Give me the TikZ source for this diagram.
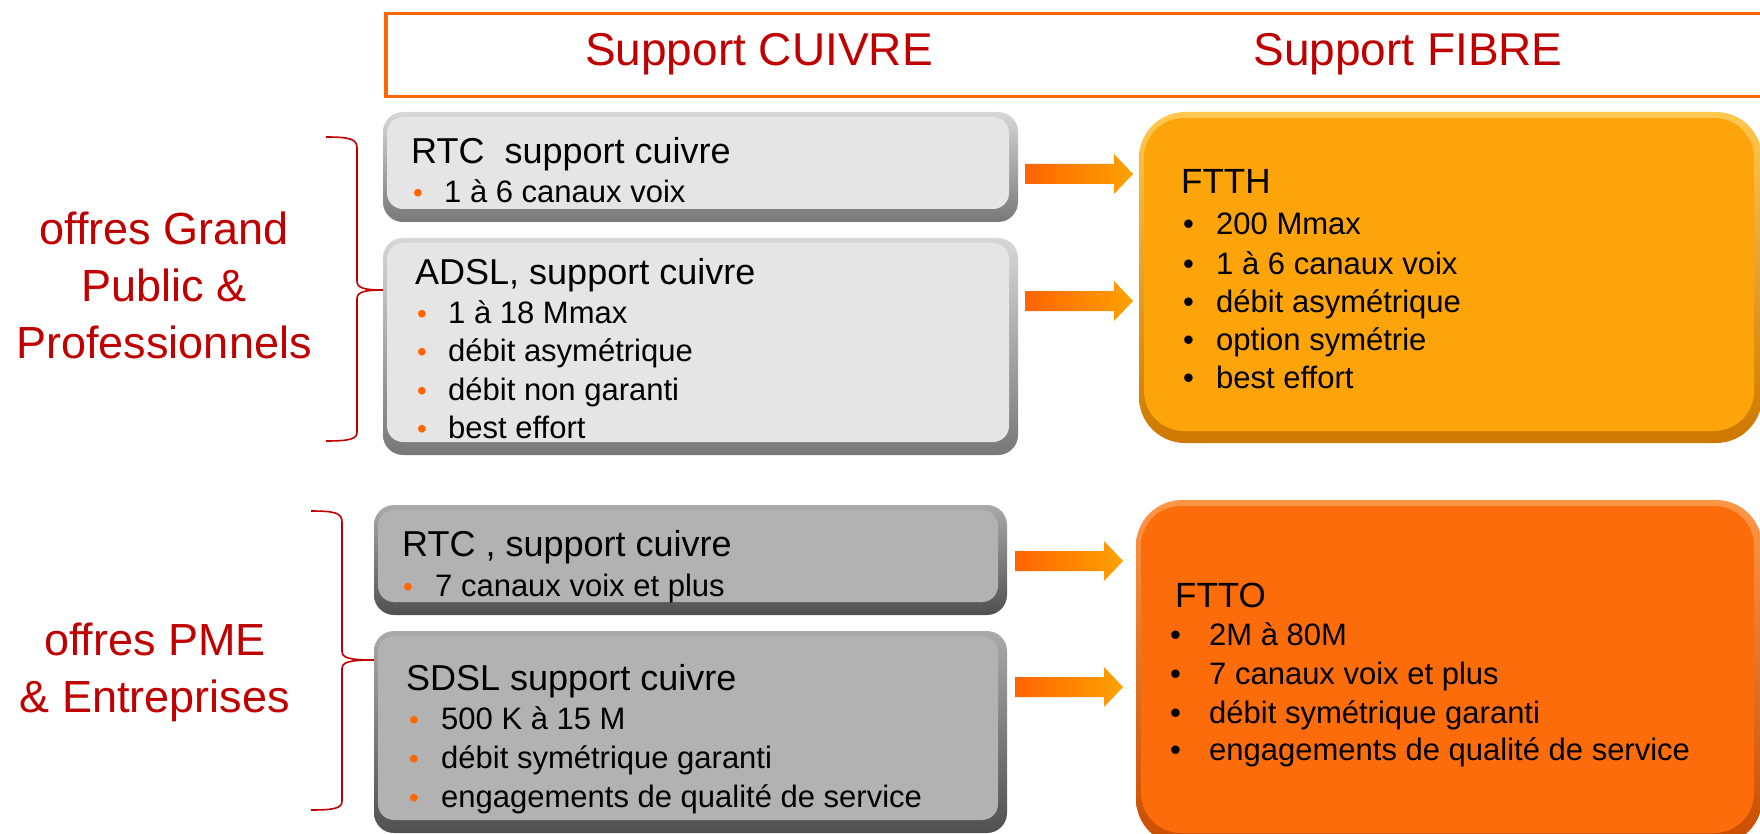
\documentclass[tikz,border=0pt]{standalone}
\usepackage{fontspec}
\setmainfont{Liberation Sans}
\usetikzlibrary{calc}

\definecolor{hdred}{RGB}{192,0,0}
\definecolor{lineor}{RGB}{255,102,0}
\definecolor{lgfill}{RGB}{229,229,229}
\definecolor{lgtop}{RGB}{215,215,215}
\definecolor{lgedge}{RGB}{120,120,120}
\definecolor{dgfill}{RGB}{178,178,178}
\definecolor{dgtop}{RGB}{170,170,170}
\definecolor{dgedge}{RGB}{80,80,80}
\definecolor{fthfill}{RGB}{252,164,10}
\definecolor{fthtop}{RGB}{255,200,80}
\definecolor{fthedge}{RGB}{205,120,0}
\definecolor{ftofill}{RGB}{252,108,10}
\definecolor{ftotop}{RGB}{255,150,70}
\definecolor{ftoedge}{RGB}{200,78,0}
\definecolor{arrL}{RGB}{255,100,0}
\definecolor{arrR}{RGB}{255,162,0}
\definecolor{bulor}{RGB}{255,102,0}

\newcommand\blockarr[2]{%
  \shade[left color=arrL, right color=arrR]
    ($(#1)+(0,-10)$) -- ($(#2)+(-19,-10)$) -- ($(#2)+(-19,-20)$) -- (#2)
    -- ($(#2)+(-19,20)$) -- ($(#2)+(-19,10)$) -- ($(#1)+(0,10)$) -- cycle;}

\tikzset{
  hdtext/.style={font=\fontsize{46}{55}\selectfont, text=hdred, inner sep=0pt, anchor=base},
  grptext/.style={font=\fontsize{45}{57}\selectfont, text=hdred, inner sep=0pt, anchor=base},
  boxtitle/.style={font=\fontsize{36}{43}\selectfont, inner sep=0pt, anchor=base west},
  fibtitle/.style={font=\fontsize{35}{42}\selectfont, inner sep=0pt, anchor=base west},
  itemtext/.style={font=\fontsize{31}{38}\selectfont, inner sep=0pt, anchor=base west},
  orbul/.style={font=\fontsize{28}{34}\selectfont, text=bulor, inner sep=0pt, anchor=base west},
  blkbul/.style={font=\fontsize{31}{38}\selectfont, inner sep=0pt, anchor=base west},
  lgbox/.style={rounded corners=20pt, inner sep=0pt, outer sep=0pt, anchor=north west,
    top color=lgtop, bottom color=lgedge},
  dgbox/.style={rounded corners=20pt, inner sep=0pt, outer sep=0pt, anchor=north west,
    top color=dgtop, bottom color=dgedge},
  fthbox/.style={rounded corners=46pt, inner sep=0pt, outer sep=0pt, anchor=north west,
    top color=fthtop, bottom color=fthedge},
  ftobox/.style={rounded corners=46pt, inner sep=0pt, outer sep=0pt, anchor=north west,
    top color=ftotop, bottom color=ftoedge},
  bracket/.style={draw=hdred, line width=1.6pt}
}

\begin{document}
\begin{tikzpicture}[x=1pt,y=-1pt]
\useasboundingbox (0,0) rectangle (1760,834);
\clip (0,0) rectangle (1760,834);
\fill[white] (0,0) rectangle (1760,834);

% header
\node[draw=lineor, line width=3.5pt, fill=white, inner sep=0pt, anchor=north west,
      minimum width=1390pt, minimum height=83pt] (hdr) at (384,12) {};
\node[hdtext] (hcu) at (759,66) {Support CUIVRE};
\node[hdtext] (hfi) at (1408,66) {Support FIBRE};

% grey boxes
\node[lgbox, minimum width=635pt, minimum height=110pt] (rtcA) at (383,112) {};
\fill[lgfill, rounded corners=16pt] ($(rtcA.north west)+(4,5)$) rectangle ($(rtcA.south east)+(-9,-13)$);
\node[lgbox, minimum width=635pt, minimum height=217pt] (adsl) at (383,238) {};
\fill[lgfill, rounded corners=16pt] ($(adsl.north west)+(4,5)$) rectangle ($(adsl.south east)+(-9,-13)$);
\node[dgbox, minimum width=633pt, minimum height=110pt] (rtcB) at (374,505) {};
\fill[dgfill, rounded corners=16pt] ($(rtcB.north west)+(4,5)$) rectangle ($(rtcB.south east)+(-9,-13)$);
\node[dgbox, minimum width=633pt, minimum height=202pt] (sdsl) at (374,631) {};
\fill[dgfill, rounded corners=16pt] ($(sdsl.north west)+(4,5)$) rectangle ($(sdsl.south east)+(-9,-13)$);

% fibre boxes
\node[fthbox, minimum width=623pt, minimum height=331pt] (ftth) at (1139,112) {};
\fill[fthfill, rounded corners=40pt] ($(ftth.north west)+(5,6)$) rectangle ($(ftth.south east)+(-8,-12)$);
\node[ftobox, minimum width=626pt, minimum height=345pt] (ftto) at (1136,500) {};
\fill[ftofill, rounded corners=40pt] ($(ftto.north west)+(5,6)$) rectangle ($(ftto.south east)+(-8,-12)$);

% texts grey boxes
\node[boxtitle] (t1) at (411,164) {RTC\ \ support cuivre};
\node[orbul] (b11) at (413,203) {•};
\node[itemtext] (i11) at (444,203) {1 à 6 canaux voix};

\node[boxtitle] (t2) at (415,284) {ADSL, support cuivre};
\node[orbul] (b21) at (417,323) {•};
\node[itemtext] (i21) at (448,323) {1 à 18 Mmax};
\node[orbul] (b22) at (417,361) {•};
\node[itemtext] (i22) at (448,361) {débit asymétrique};
\node[orbul] (b23) at (417,400) {•};
\node[itemtext] (i23) at (448,400) {débit non garanti};
\node[orbul] (b24) at (417,438) {•};
\node[itemtext] (i24) at (448,438) {best effort};

\node[boxtitle] (t3) at (402,556) {RTC , support cuivre};
\node[orbul] (b31) at (403,596) {•};
\node[itemtext] (i31) at (435,596) {7 canaux voix et plus};

\node[boxtitle] (t4) at (406,690) {SDSL support cuivre};
\node[orbul] (b41) at (409,729) {•};
\node[itemtext] (i41) at (441,729) {500 K à 15 M};
\node[orbul] (b42) at (409,768) {•};
\node[itemtext] (i42) at (441,768) {débit symétrique garanti};
\node[orbul] (b43) at (409,807) {•};
\node[itemtext] (i43) at (441,807) {engagements de qualité de service};

% texts fibre boxes
\node[fibtitle] (t5) at (1181,194) {FTTH};
\node[blkbul] (b51) at (1183,235) {•};
\node[itemtext] (i51) at (1216,235) {200 Mmax};
\node[blkbul] (b52) at (1183,274) {•};
\node[itemtext] (i52) at (1216,274) {1 à 6 canaux voix};
\node[blkbul] (b53) at (1183,312) {•};
\node[itemtext] (i53) at (1216,312) {débit asymétrique};
\node[blkbul] (b54) at (1183,350) {•};
\node[itemtext] (i54) at (1216,350) {option symétrie};
\node[blkbul] (b55) at (1183,388) {•};
\node[itemtext] (i55) at (1216,388) {best effort};

\node[fibtitle] (t6) at (1175,607) {FTTO};
\node[blkbul] (b61) at (1170,645) {•};
\node[itemtext] (i61) at (1209,645) {2M à 80M};
\node[blkbul] (b62) at (1170,684) {•};
\node[itemtext] (i62) at (1209,684) {7 canaux voix et plus};
\node[blkbul] (b63) at (1170,723) {•};
\node[itemtext] (i63) at (1209,723) {débit symétrique garanti};
\node[blkbul] (b64) at (1170,760) {•};
\node[itemtext] (i64) at (1209,760) {engagements de qualité de service};

% group labels
\node[grptext] (g11) at (164,244) {offres Grand};
\node[grptext] (g12) at (164,301) {Public \&};
\node[grptext] (g13) at (164,358) {Professionnels};
\node[grptext] (g21) at (155,655) {offres PME};
\node[grptext] (g22) at (155,712) {\& Entreprises};

% braces
\coordinate (br1tip) at (adsl.west |- 0,290);
\draw[bracket] (326,137) .. controls (350,137) and (357,139) .. (357,148) -- (357,281)
  .. controls (357,288) and (364,290) .. (br1tip)
  .. controls (364,290) and (357,292) .. (357,299) -- (357,432)
  .. controls (357,439) and (350,441) .. (326,441);
\coordinate (br2tip) at (sdsl.west |- 0,660);
\draw[bracket] (311,511) .. controls (335,511) and (342,513) .. (342,522) -- (342,651)
  .. controls (342,658) and (349,660) .. (br2tip)
  .. controls (349,660) and (342,662) .. (342,669) -- (342,801)
  .. controls (342,808) and (335,810) .. (311,810);

% arrows
\coordinate (a1s) at ($(rtcA.east |- 0,174)+(7,0)$);
\coordinate (a1e) at ($(ftth.west |- 0,174)+(-6,0)$);
\coordinate (a2s) at ($(adsl.east |- 0,301)+(7,0)$);
\coordinate (a2e) at ($(ftth.west |- 0,301)+(-6,0)$);
\coordinate (a3s) at ($(rtcB.east |- 0,561)+(8,0)$);
\coordinate (a3e) at ($(ftto.west |- 0,561)+(-13,0)$);
\coordinate (a4s) at ($(sdsl.east |- 0,687)+(8,0)$);
\coordinate (a4e) at ($(ftto.west |- 0,687)+(-13,0)$);
\blockarr{a1s}{a1e}
\blockarr{a2s}{a2e}
\blockarr{a3s}{a3e}
\blockarr{a4s}{a4e}
\end{tikzpicture}
\end{document}
